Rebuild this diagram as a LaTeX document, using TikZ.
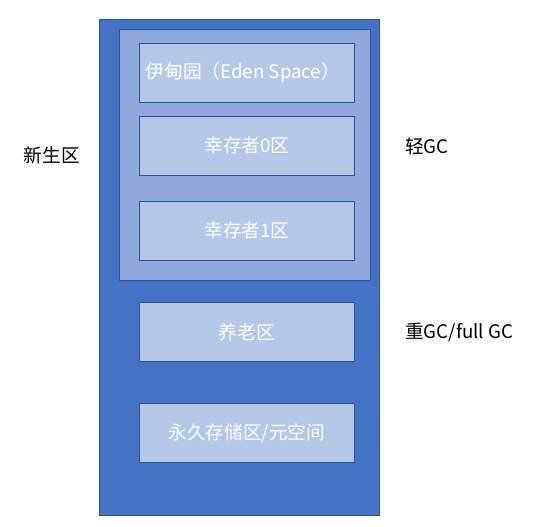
\documentclass[tikz,border=0pt]{standalone}
\usepackage{fontspec}
\setmainfont{Noto Sans CJK SC}
\usepackage{tikz}
\definecolor{heapblue}{HTML}{4472C4}
\definecolor{younglight}{HTML}{8FAADC}
\definecolor{boxlight}{HTML}{B4C7E7}
\definecolor{edgeblue}{HTML}{2F528F}
\tikzset{
    area/.style={rectangle, draw=edgeblue, line width=0.8pt, anchor=north west},
    zone/.style={rectangle, draw=edgeblue, line width=0.8pt, fill=boxlight, minimum width=215pt, minimum height=59pt, text=white, anchor=north west},
    side/.style={text=black, anchor=west}
}
\begin{document}
\begin{tikzpicture}[x=1pt, y=-1pt, font=\fontsize{18.7}{22}\selectfont, inner sep=0pt]
    % JVM heap layout
    \useasboundingbox (0,0) rectangle (538,527);
    \node (heap) at (99,19) [area, fill=heapblue, minimum width=280pt, minimum height=496pt] {};
    \node (young) at (119,29) [area, fill=younglight, minimum width=251pt, minimum height=251pt] {};

    \node (eden) at (139,43) [zone] {};
    \node at (eden.center) [text=white, xshift=-4pt] {伊甸园（Eden Space）};
    \node (surv0) at (139,116) [zone] {幸存者0区};
    \node (surv1) at (139,201) [zone] {幸存者1区};
    \node (old) at (139,302) [zone] {养老区};
    \node (perm) at (139,403) [zone] {永久存储区/元空间};

    \node (younglabel) at (52,155) [text=black] {新生区};
    \node (minor) at (405,146) [side] {轻GC};
    \node (major) at (405,332) [side] {重GC/full GC};
\end{tikzpicture}
\end{document}
